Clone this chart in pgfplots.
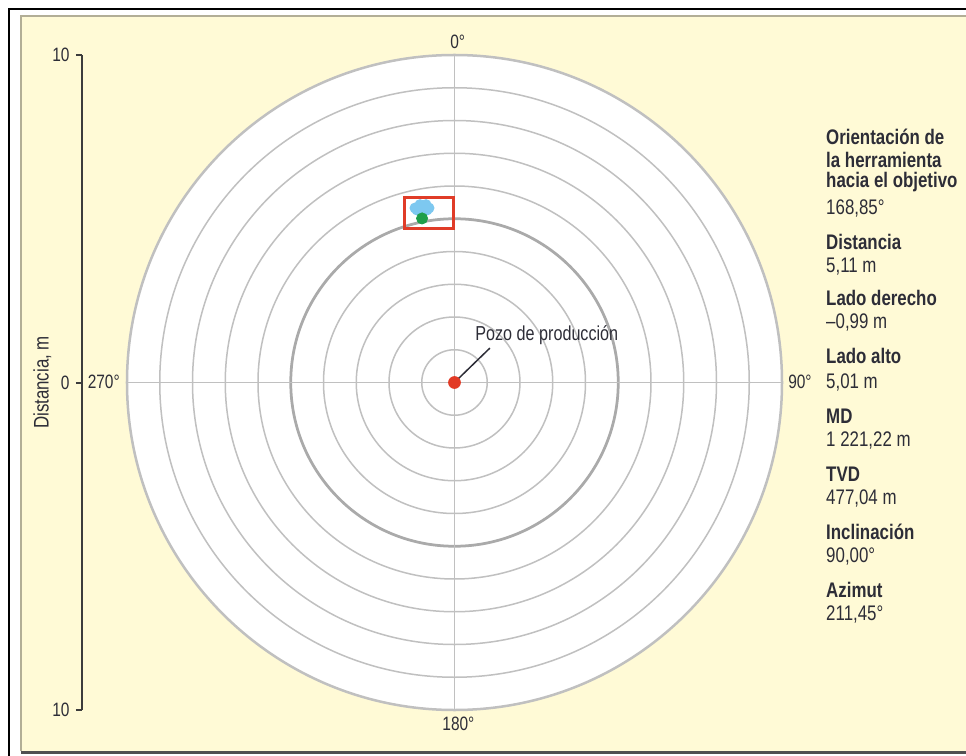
\documentclass[border=0pt]{standalone}
\usepackage{fontspec}
\setmainfont{Liberation Sans}[FakeStretch=0.8]
\usepackage{pgfplots}
\pgfplotsset{compat=1.18}
\definecolor{panel}{RGB}{255,250,214}
\definecolor{panelborder}{RGB}{178,174,150}
\definecolor{bottomline}{RGB}{80,80,80}
\definecolor{ring}{RGB}{192,192,192}
\definecolor{ringdark}{RGB}{170,170,170}
\definecolor{txt}{RGB}{45,45,55}
\definecolor{axisc}{RGB}{60,60,60}
\definecolor{boxred}{RGB}{224,60,40}
\definecolor{dotred}{RGB}{226,58,37}
\definecolor{dotgreen}{RGB}{30,158,74}
\definecolor{dotblue}{RGB}{125,200,240}
\begin{document}
\begin{tikzpicture}
\useasboundingbox (-9.09,-7.45) rectangle (10.23,7.65);
\fill[white] (-9.09,-7.45) rectangle (10.23,7.65);
\draw[black, line width=0.03cm] (-8.91,-7.6) -- (-8.91,7.47) -- (10.4,7.47);
\fill[panel] (-8.67,-7.37) rectangle (10.4,7.33);
\draw[panelborder, line width=0.045cm] (-8.67,-7.37) -- (-8.67,7.33) -- (10.4,7.33);
\draw[bottomline, line width=0.06cm] (-8.67,-7.40) -- (10.4,-7.40);
\begin{axis}[
  at={(0,0)}, anchor=origin,
  x=0.655cm, y=0.655cm,
  xmin=-11.38, xmax=10, ymin=-10, ymax=10,
  clip=false,
  hide x axis,
  axis y line*=left,
  ytick={-10,0,10}, yticklabels={10,0,10},
  tick align=outside,
  major tick length=0.12cm,
  y axis line style={line width=0.04cm, color=axisc},
  ytick style={line width=0.04cm, color=axisc},
  /pgf/number format/assume math mode=true,
  yticklabel style={font=\fontsize{11}{13}\selectfont, text=txt},
  ylabel={Distancia, m},
  ylabel shift={-0.22cm},
  ylabel style={font=\fontsize{12}{14}\selectfont, text=txt},
]
\fill[white] (axis cs:0,0) circle[radius=6.55cm];
\pgfplotsinvokeforeach{1,2,3,4,6,7,8,9}{
  \draw[ring, line width=0.03cm] (axis cs:0,0) circle[radius=#1*0.655cm];
}
\draw[ringdark, line width=0.055cm] (axis cs:0,0) circle[radius=5*0.655cm];
\draw[ring, line width=0.05cm] (axis cs:0,0) circle[radius=6.55cm];
\draw[ring, line width=0.03cm] (axis cs:0,-10) -- (axis cs:0,10);
\draw[ring, line width=0.03cm] (axis cs:-10,0) -- (axis cs:10,0);
% annotation
\draw[txt, line width=0.03cm] (axis cs:0.1,0.1) -- (axis cs:1.08,1.05);
\node[anchor=base west, inner sep=0, text=txt, font=\fontsize{11.5}{13}\selectfont] at (axis cs:0.626,1.276) {Pozo de producción};
% data
\addplot[only marks, mark=*, mark size=2.9pt, color=dotblue, mark options={draw=dotblue, fill=dotblue}] coordinates {
(-1.206,5.328) (-1.053,5.430) (-0.870,5.430) (-0.779,5.328) (-0.992,5.298) (-1.145,5.267) (-0.840,5.267)
};
\addplot[only marks, mark=*, mark size=3.2pt, color=dotgreen, mark options={draw=dotgreen, fill=dotgreen}] coordinates {(-0.99,5.01)};
\draw[boxred, line width=0.06cm] (axis cs:-1.54,4.69) rectangle (axis cs:-0.02,5.66);
\addplot[only marks, mark=*, mark size=3.4pt, color=dotred, mark options={draw=dotred, fill=dotred}] coordinates {(0,0)};
% angle labels
\begin{scope}[every node/.style={inner sep=0, text=txt, font=\fontsize{11}{13}\selectfont}]
\node[anchor=base] at (axis cs:0.1,10.21) {0°};
\node[anchor=base] at (axis cs:0.12,-10.64) {180°};
\node[anchor=base west] at (axis cs:10.18,-0.168) {90°};
\node[anchor=base east] at (axis cs:-10.21,-0.168) {270°};
\end{scope}
% right panel text
\begin{scope}[every node/.style={anchor=base west, inner sep=0, text=txt, font=\fontsize{12}{14}\selectfont}]
\node[font=\fontsize{12}{14}\selectfont\bfseries] at (axis cs:11.34,7.252) {Orientación de};
\node[font=\fontsize{12}{14}\selectfont\bfseries] at (axis cs:11.34,6.580) {la herramienta};
\node[font=\fontsize{12}{14}\selectfont\bfseries] at (axis cs:11.34,5.939) {hacia el objetivo};
\node at (axis cs:11.34,5.115) {168,85°};
\node[font=\fontsize{12}{14}\selectfont\bfseries] at (axis cs:11.34,4.046) {Distancia};
\node at (axis cs:11.34,3.374) {5,11 m};
\node[font=\fontsize{12}{14}\selectfont\bfseries] at (axis cs:11.34,2.366) {Lado derecho};
\node at (axis cs:11.34,1.664) {–0,99 m};
\node[font=\fontsize{12}{14}\selectfont\bfseries] at (axis cs:11.34,0.595) {Lado alto};
\node at (axis cs:11.34,-0.168) {5,01 m};
\node[font=\fontsize{12}{14}\selectfont\bfseries] at (axis cs:11.34,-1.237) {MD};
\node at (axis cs:11.34,-1.969) {1 221,22 m};
\node[font=\fontsize{12}{14}\selectfont\bfseries] at (axis cs:11.34,-3.038) {TVD};
\node at (axis cs:11.34,-3.710) {477,04 m};
\node[font=\fontsize{12}{14}\selectfont\bfseries] at (axis cs:11.34,-4.779) {Inclinación};
\node at (axis cs:11.34,-5.511) {90,00°};
\node[font=\fontsize{12}{14}\selectfont\bfseries] at (axis cs:11.34,-6.550) {Azimut};
\node at (axis cs:11.34,-7.252) {211,45°};
\end{scope}
\end{axis}
\end{tikzpicture}
\end{document}
